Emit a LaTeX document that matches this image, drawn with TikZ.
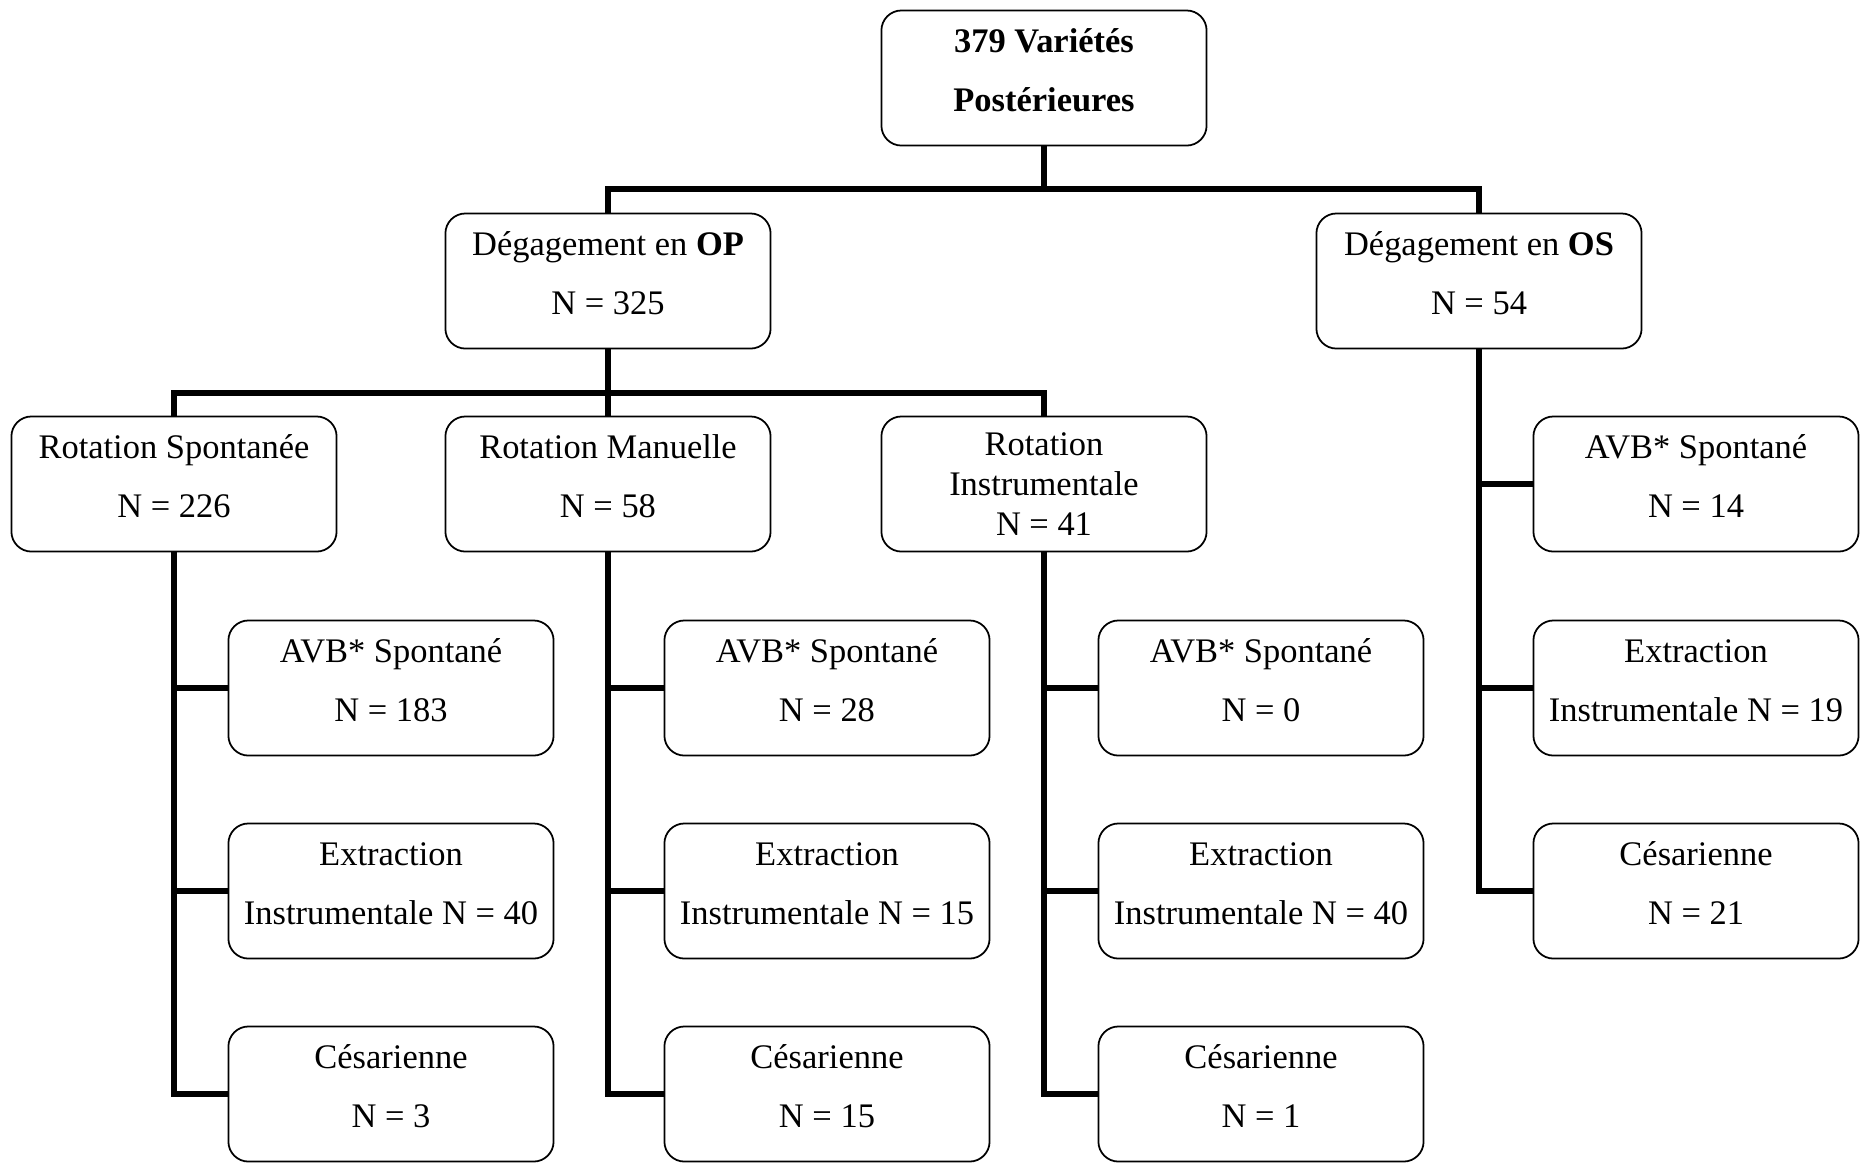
\documentclass[tikz,border=0pt]{standalone}
\usepackage{fontspec}
\setmainfont{Liberation Serif}
% two lines, widely spaced, set a little high in the box
\newcommand\boxtext[2]{\raisebox{1.2pt}[\height][\depth]{\begin{tabular}{@{}c@{}}#1\\[5.5pt]#2\end{tabular}}}
\begin{document}
\begin{tikzpicture}[x=0.01cm,y=-0.01cm,
    box/.style={draw,rounded corners=0.2cm,line width=0.5pt,
      minimum width=3.25cm,minimum height=1.35cm,inner sep=0pt,
      align=center,font=\fontsize{9.8}{11.3}\selectfont},
    link/.style={line width=1.7pt}]
  \useasboundingbox (0,0) rectangle (1860,1162);

  % Root
  \node[box] (root) at (1044,78) {\boxtext{\textbf{379 Variétés}}{\textbf{Postérieures}}};

  % Dégagement
  \node[box] (op) at (608,281) {\boxtext{Dégagement en \textbf{OP}}{N = 325}};
  \node[box] (os) at (1479,281) {\boxtext{Dégagement en \textbf{OS}}{N = 54}};

  % Rotations
  \node[box] (rs) at (174,484) {\boxtext{Rotation Spontanée}{N = 226}};
  \node[box] (rm) at (608,484) {\boxtext{Rotation Manuelle}{N = 58}};
  \node[box] (ri) at (1044,484) {Rotation\\Instrumentale\\N = 41};

  % Issues after Rotation Spontanée
  \node[box] (rs-avb) at (391,688) {\boxtext{AVB* Spontané}{N = 183}};
  \node[box] (rs-ext) at (391,891) {\boxtext{Extraction}{Instrumentale N = 40}};
  \node[box] (rs-ces) at (391,1094) {\boxtext{Césarienne}{N = 3}};

  % Issues after Rotation Manuelle
  \node[box] (rm-avb) at (827,688) {\boxtext{AVB* Spontané}{N = 28}};
  \node[box] (rm-ext) at (827,891) {\boxtext{Extraction}{Instrumentale N = 15}};
  \node[box] (rm-ces) at (827,1094) {\boxtext{Césarienne}{N = 15}};

  % Issues after Rotation Instrumentale
  \node[box] (ri-avb) at (1261,688) {\boxtext{AVB* Spontané}{N = 0}};
  \node[box] (ri-ext) at (1261,891) {\boxtext{Extraction}{Instrumentale N = 40}};
  \node[box] (ri-ces) at (1261,1094) {\boxtext{Césarienne}{N = 1}};

  % Issues after OS
  \node[box] (os-avb) at (1696,484) {\boxtext{AVB* Spontané}{N = 14}};
  \node[box] (os-ext) at (1696,688) {\boxtext{Extraction}{Instrumentale N = 19}};
  \node[box] (os-ces) at (1696,891) {\boxtext{Césarienne}{N = 21}};

  % Connectors
  \coordinate (bus1) at (1044,189);
  \coordinate (bus2) at (608,393);
  \draw[link] (root.south) -- (bus1);
  \draw[link] (op.north) |- (bus1) -| (os.north);
  \draw[link] (op.south) -- (rm.north);
  \draw[link] (rs.north) |- (bus2) -| (ri.north);
  \foreach \p in {rs,rm,ri,os}
    \foreach \c in {avb,ext,ces}
      \draw[link] (\p.south) |- (\p-\c.west);
\end{tikzpicture}
\end{document}
